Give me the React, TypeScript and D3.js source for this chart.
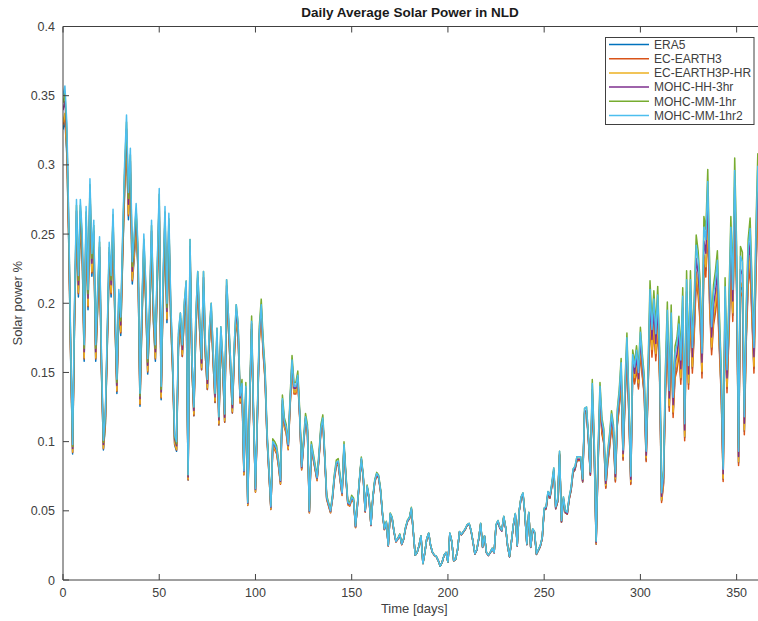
import React from "react";
import * as d3 from "d3";

// Day-by-day values of the top-drawn series (MOHC-MM-1hr2), days 0..364
const baseSeries: number[] = [
  0.35, 0.357, 0.33, 0.26, 0.17, 0.098, 0.2, 0.275, 0.22, 0.275,
  0.25, 0.17, 0.27, 0.21, 0.29, 0.236, 0.26, 0.17, 0.21, 0.248,
  0.16, 0.101, 0.12, 0.18, 0.244, 0.22, 0.268, 0.2, 0.145, 0.21,
  0.19, 0.25, 0.3, 0.336, 0.28, 0.312, 0.23, 0.25, 0.272, 0.24,
  0.135, 0.2, 0.25, 0.215, 0.16, 0.2, 0.26, 0.2, 0.17, 0.23,
  0.283, 0.14, 0.22, 0.27, 0.2, 0.265, 0.2, 0.16, 0.105, 0.1,
  0.18, 0.193, 0.17, 0.2, 0.216, 0.076, 0.246, 0.16, 0.125, 0.19,
  0.223, 0.19, 0.16, 0.223, 0.17, 0.145, 0.18, 0.2, 0.166, 0.135,
  0.182, 0.118, 0.183, 0.16, 0.12, 0.217, 0.19, 0.16, 0.127, 0.17,
  0.199, 0.185, 0.133, 0.142, 0.079, 0.14, 0.056, 0.13, 0.187, 0.12,
  0.066, 0.12, 0.18, 0.199, 0.17, 0.15, 0.106, 0.08, 0.053, 0.1,
  0.098, 0.095, 0.085, 0.072, 0.131, 0.115, 0.11, 0.098, 0.13, 0.159,
  0.14, 0.14, 0.148, 0.12, 0.082, 0.1, 0.118, 0.11, 0.05, 0.098,
  0.09, 0.082, 0.074, 0.09, 0.11, 0.117, 0.09, 0.06, 0.055, 0.05,
  0.06, 0.075, 0.085, 0.086, 0.074, 0.063, 0.098, 0.075, 0.056, 0.055,
  0.06, 0.058, 0.039, 0.055, 0.072, 0.088, 0.075, 0.05, 0.068, 0.06,
  0.04, 0.06, 0.072, 0.077, 0.075, 0.065, 0.048, 0.037, 0.042, 0.025,
  0.048, 0.045, 0.035, 0.028, 0.03, 0.033, 0.026, 0.03, 0.038, 0.043,
  0.045, 0.052, 0.035, 0.018, 0.02, 0.025, 0.032, 0.012, 0.02, 0.03,
  0.034, 0.025, 0.02, 0.018, 0.017, 0.014, 0.01, 0.013, 0.018, 0.02,
  0.013, 0.034, 0.028, 0.014, 0.015, 0.022, 0.035, 0.033, 0.035, 0.037,
  0.04, 0.041, 0.036, 0.028, 0.019, 0.022, 0.03, 0.041, 0.024, 0.032,
  0.02, 0.018, 0.02, 0.023, 0.02, 0.04, 0.043, 0.038, 0.036, 0.046,
  0.038, 0.025, 0.017, 0.028, 0.04, 0.048, 0.025, 0.05, 0.06, 0.063,
  0.048, 0.026, 0.049, 0.024, 0.037, 0.035, 0.019, 0.022, 0.025, 0.031,
  0.052, 0.053, 0.064, 0.061, 0.07, 0.081, 0.053, 0.058, 0.093, 0.043,
  0.06, 0.05, 0.049, 0.06, 0.067, 0.08, 0.082, 0.089, 0.089, 0.089,
  0.073, 0.124, 0.125, 0.104, 0.078, 0.142, 0.1, 0.028, 0.09, 0.14,
  0.115, 0.107, 0.072, 0.091, 0.104, 0.12, 0.11, 0.077, 0.121, 0.135,
  0.157, 0.094, 0.14, 0.175, 0.13, 0.075, 0.163, 0.154, 0.166, 0.15,
  0.179, 0.16, 0.145, 0.093, 0.15, 0.21, 0.181, 0.203, 0.178, 0.206,
  0.161, 0.063, 0.077, 0.149, 0.195, 0.137, 0.193, 0.132, 0.164, 0.17,
  0.185, 0.159, 0.205, 0.113, 0.217, 0.155, 0.217, 0.168, 0.2, 0.242,
  0.231, 0.21, 0.164, 0.255, 0.246, 0.288, 0.22, 0.183, 0.207, 0.217,
  0.231, 0.188, 0.149, 0.08, 0.212, 0.152, 0.198, 0.255, 0.21, 0.296,
  0.234, 0.093, 0.234, 0.23, 0.118, 0.193, 0.239, 0.254, 0.21, 0.168,
  0.246, 0.299, 0.26, 0.22, 0.24,
];

// Month-by-month ratio of each series to the top-drawn series
const seriesNames: string[] = [
  "ERA5",
  "EC-EARTH3",
  "EC-EARTH3P-HR",
  "MOHC-HH-3hr",
  "MOHC-MM-1hr",
  "MOHC-MM-1hr2",
];
const ratioERA5: number[] = [0.93, 0.93, 0.95, 0.97, 0.98, 0.99, 0.99, 0.99, 0.97, 0.93, 0.91, 0.91];
const ratioECEARTH3: number[] = [0.94, 0.94, 0.95, 0.96, 0.97, 0.98, 0.99, 0.99, 0.97, 0.92, 0.89, 0.89];
const ratioECEARTH3PHR: number[] = [0.945, 0.945, 0.96, 0.97, 0.98, 0.99, 0.99, 0.99, 0.98, 0.95, 0.92, 0.92];
const ratioMOHCHH: number[] = [0.97, 0.97, 0.98, 0.99, 0.99, 0.99, 0.99, 0.98, 0.98, 0.97, 0.96, 0.96];
const ratioMOHCMM: number[] = [0.985, 0.985, 1.0, 1.02, 1.02, 1.01, 1.0, 1.0, 1.0, 1.02, 1.03, 1.03];
const ratioMOHCMM2: number[] = [1, 1, 1, 1, 1, 1, 1, 1, 1, 1, 1, 1];
const seriesRatios: number[][] = [ratioERA5, ratioECEARTH3, ratioECEARTH3PHR, ratioMOHCHH, ratioMOHCMM, ratioMOHCMM2];
const seriesColors: string[] = ["#0072BD", "#D95319", "#EDB120", "#7E2F8E", "#77AC30", "#4DBEEE"];

const xTicks: number[] = [0, 50, 100, 150, 200, 250, 300, 350];
const yTicks: number[] = [0, 0.05, 0.1, 0.15, 0.2, 0.25, 0.3, 0.35, 0.4];

const W = 758;
const H = 621;
const left = 63;
const right = 765.5;
const top = 26.5;
const bottom = 580;
const FONT = "'Liberation Sans', Arial, Helvetica, sans-serif";
const AX = "#404040";

export default function App() {
  const x = d3.scaleLinear().domain([0, 365]).range([left, right]);
  const y = d3.scaleLinear().domain([0, 0.4]).range([bottom, top]);
  const series = seriesNames.map((name, i) => ({
    name,
    color: seriesColors[i],
    values: baseSeries.map((v, d) => [d, v * seriesRatios[i][Math.min(11, Math.floor(d / 30.5))]] as [number, number]),
  }));
  const line = d3
    .line<[number, number]>()
    .x((p) => x(p[0]))
    .y((p) => y(p[1]));
  const fmt = (v: number) => String(+v.toFixed(2));
  const tick = 6;
  return (
    <div style={{ position: "absolute", left: 0, top: 0, width: W, height: H, background: "#fff" }}>
      <svg width={W} height={H} style={{ display: "block" }} fontFamily={FONT}>
        <rect x={0} y={0} width={W} height={H} fill="#fff" />
        <defs>
          <clipPath id="plotclip">
            <rect x={left} y={top} width={right - left} height={bottom - top} />
          </clipPath>
        </defs>
        <g clipPath="url(#plotclip)">
          {series.map((s) => (
            <path key={s.name} d={line(s.values) || ""} fill="none" stroke={s.color} strokeWidth={1.5} strokeLinejoin="round" />
          ))}
        </g>
        {/* axes box */}
        <line x1={left} x2={right} y1={bottom} y2={bottom} stroke={AX} strokeWidth={1} />
        <line x1={left} x2={right} y1={top} y2={top} stroke={AX} strokeWidth={1} />
        <line x1={left} x2={left} y1={top} y2={bottom} stroke={AX} strokeWidth={1} />
        <line x1={right} x2={right} y1={top} y2={bottom} stroke={AX} strokeWidth={1} />
        {xTicks.map((t) => (
          <g key={"x" + t}>
            <line x1={x(t)} x2={x(t)} y1={bottom} y2={bottom - tick} stroke={AX} />
            <line x1={x(t)} x2={x(t)} y1={top} y2={top + tick} stroke={AX} />
            <text x={x(t)} y={bottom + 17} textAnchor="middle" fontSize={12.5} fill={AX}>
              {t}
            </text>
          </g>
        ))}
        {yTicks.map((t) => (
          <g key={"y" + t}>
            <line x1={left} x2={left + tick} y1={y(t)} y2={y(t)} stroke={AX} />
            <line x1={right} x2={right - tick} y1={y(t)} y2={y(t)} stroke={AX} />
            <text x={left - 8} y={y(t) + 4.5} textAnchor="end" fontSize={12.5} fill={AX}>
              {fmt(t)}
            </text>
          </g>
        ))}
        <text x={410} y={17} textAnchor="middle" fontSize={13.5} fontWeight="bold" fill="#1a1a1a">
          Daily Average Solar Power in NLD
        </text>
        <text x={(left + right) / 2} y={613} textAnchor="middle" fontSize={13} fill={AX}>
          Time [days]
        </text>
        <text transform={`translate(22,${(top + bottom) / 2}) rotate(-90)`} textAnchor="middle" fontSize={13} fill={AX}>
          Solar power %
        </text>
        {/* legend */}
        <g>
          <rect x={605.5} y={37.5} width={148.5} height={87} fill="#fff" stroke={AX} strokeWidth={1} />
          {series.map((s, i) => (
            <g key={"l" + s.name}>
              <line x1={609} x2={649} y1={44.5 + i * 14.2} y2={44.5 + i * 14.2} stroke={s.color} strokeWidth={1.5} />
              <text x={654} y={44.5 + i * 14.2 + 4.3} fontSize={12} fill={AX}>
                {s.name}
              </text>
            </g>
          ))}
        </g>
      </svg>
    </div>
  );
}
